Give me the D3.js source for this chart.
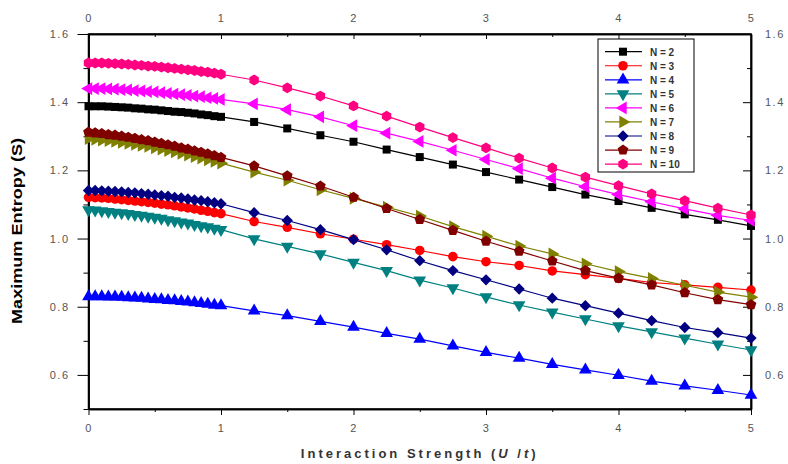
<!DOCTYPE html>
<head>
  <meta charset="utf-8">
  <style>
    body { margin: 0; background: #fff; }
    svg text { font-family: Arial, "Liberation Sans", sans-serif; }
    .tick text { font-size: 11px; fill: #555; letter-spacing: 1.5px; }
    .axis path, .axis line { stroke: #000; }
  </style>
</head>

<body>
<script src="https://d3js.org/d3.v7.min.js"></script>

<script>
  // U/t values: dense in [0,1], then every 0.25
  var uDense = [0, 0.05, 0.1, 0.15, 0.2, 0.25, 0.3, 0.35, 0.4, 0.45, 0.5,
                0.55, 0.6, 0.65, 0.7, 0.75, 0.8, 0.85, 0.9, 0.95, 1];
  var uCoarse = [1.25, 1.5, 1.75, 2, 2.25, 2.5, 2.75, 3, 3.25, 3.5, 3.75,
                 4, 4.25, 4.5, 4.75, 5];
  var uValues = uDense.concat(uCoarse);

  var xTicks = [0, 1, 2, 3, 4, 5];
  var yTicks = [0.6, 0.8, 1.0, 1.2, 1.4, 1.6];

  var labels = ["N = 2", "N = 3", "N = 4", "N = 5", "N = 6", "N = 7", "N = 8", "N = 9", "N = 10"];

  var sN2 = [1.388,1.388,1.388,1.387,1.386,1.385,1.384,1.382,1.381,1.379,1.378,1.376,1.374,1.372,1.371,1.369,1.367,1.364,1.362,1.359,1.357,
             1.342,1.323,1.303,1.284,1.261,1.239,1.217,1.195,1.173,1.151,1.129,1.110,1.090,1.071,1.055,1.037];
  var sN3 = [1.121,1.120,1.119,1.118,1.116,1.114,1.112,1.110,1.108,1.106,1.104,1.101,1.099,1.096,1.093,1.090,1.087,1.083,1.080,1.076,1.073,
             1.050,1.033,1.014,0.998,0.982,0.965,0.947,0.932,0.921,0.905,0.894,0.883,0.871,0.864,0.857,0.849];
  var sN4 = [0.830,0.830,0.830,0.829,0.829,0.828,0.827,0.826,0.825,0.823,0.822,0.821,0.819,0.818,0.816,0.814,0.812,0.810,0.808,0.805,0.803,
             0.788,0.774,0.757,0.740,0.722,0.705,0.685,0.666,0.649,0.631,0.615,0.599,0.582,0.568,0.555,0.541];
  var sN5 = [1.084,1.083,1.081,1.079,1.077,1.075,1.073,1.070,1.068,1.065,1.062,1.059,1.055,1.052,1.048,1.045,1.041,1.037,1.034,1.030,1.026,
             0.999,0.977,0.955,0.930,0.906,0.878,0.855,0.829,0.805,0.784,0.764,0.744,0.726,0.708,0.690,0.673];
  var sN6 = [1.440,1.440,1.440,1.439,1.438,1.437,1.436,1.434,1.433,1.431,1.430,1.428,1.426,1.424,1.422,1.420,1.418,1.416,1.413,1.411,1.408,
             1.395,1.378,1.357,1.331,1.309,1.285,1.259,1.232,1.205,1.177,1.152,1.129,1.108,1.087,1.068,1.053];
  var sN7 = [1.293,1.291,1.289,1.287,1.285,1.282,1.279,1.276,1.273,1.270,1.266,1.262,1.258,1.254,1.250,1.245,1.240,1.236,1.231,1.226,1.221,
             1.195,1.171,1.143,1.118,1.092,1.066,1.035,1.007,0.978,0.955,0.926,0.903,0.883,0.863,0.843,0.828];
  var sN8 = [1.141,1.141,1.140,1.139,1.138,1.137,1.135,1.134,1.132,1.130,1.128,1.126,1.124,1.121,1.119,1.116,1.113,1.111,1.108,1.105,1.102,
             1.076,1.053,1.026,0.997,0.967,0.935,0.906,0.879,0.852,0.825,0.803,0.781,0.759,0.739,0.724,0.708];
  var sN9 = [1.312,1.310,1.308,1.305,1.303,1.300,1.297,1.294,1.290,1.287,1.283,1.279,1.275,1.271,1.266,1.262,1.257,1.253,1.248,1.243,1.238,
             1.213,1.184,1.154,1.121,1.088,1.056,1.024,0.992,0.963,0.934,0.906,0.884,0.864,0.841,0.821,0.806];
  var sN10 = [1.515,1.515,1.515,1.514,1.513,1.512,1.511,1.509,1.508,1.506,1.505,1.503,1.501,1.499,1.497,1.495,1.493,1.490,1.488,1.485,1.482,
              1.465,1.442,1.418,1.389,1.359,1.327,1.296,1.266,1.236,1.207,1.180,1.155,1.131,1.111,1.089,1.069];

  var seriesValues = [sN2, sN3, sN4, sN5, sN6, sN7, sN8, sN9, sN10];
  var colors = ["#000000", "#FF0000", "#0000FF", "#008080", "#FF00FF", "#808000", "#000080", "#800000", "#FF0080"];

  // polygon symbol helper (pentagon, hexagon)
  function polygon(n, rot) {
    return {
      draw: function (ctx, size) {
        var r = Math.sqrt(size / (0.5 * n * Math.sin(2 * Math.PI / n)));
        for (var i = 0; i < n; i++) {
          var a = rot + i * 2 * Math.PI / n;
          var px = r * Math.sin(a), py = -r * Math.cos(a);
          if (i === 0) ctx.moveTo(px, py); else ctx.lineTo(px, py);
        }
        ctx.closePath();
      }
    };
  }

  // marker type, rotation, size
  var markers = [
    { type: d3.symbolSquare,   rot: 0,   size: 64 },
    { type: d3.symbolCircle,   rot: 0,   size: 72 },
    { type: d3.symbolTriangle, rot: 0,   size: 70 },
    { type: d3.symbolTriangle, rot: 180, size: 70 },
    { type: d3.symbolTriangle, rot: -90, size: 70 },
    { type: d3.symbolTriangle, rot: 90,  size: 70 },
    { type: d3.symbolSquare,   rot: 45,  size: 64 },
    { type: polygon(5, 0),     rot: 0,   size: 76 },
    { type: polygon(6, 0),     rot: 0,   size: 76 }
  ];

  var W = 788, H = 464;
  var plotL = 88.5, plotR = 751, plotT = 34, plotB = 409;

  var svg = d3.select("body").append("svg")
      .attr("width", W)
      .attr("height", H);

  var xScale = d3.scaleLinear().domain([0, 5]).range([plotL, plotR]);
  var yScale = d3.scaleLinear().domain([0.5, 1.6]).range([plotB, plotT]);

  var fmtY = d3.format(".1f");
  var xMinor = d3.range(0.5, 5, 1);
  var yMinor = [0.5, 0.7, 0.9, 1.1, 1.3, 1.5];

  // bottom axis
  svg.append("g").attr("class", "axis")
      .attr("transform", "translate(0," + plotB + ")")
      .call(d3.axisBottom(xScale).tickValues(xTicks).tickSize(6).tickSizeOuter(0).tickPadding(9).tickFormat(d3.format("d")));
  svg.append("g").attr("class", "axis")
      .attr("transform", "translate(0," + plotB + ")")
      .call(d3.axisBottom(xScale).tickValues(xMinor).tickSize(3).tickSizeOuter(0).tickFormat(""));

  // top axis (ticks inward)
  svg.append("g").attr("class", "axis")
      .attr("transform", "translate(0," + plotT + ")")
      .call(d3.axisTop(xScale).tickValues(xTicks).tickSize(-5).tickSizeOuter(0).tickPadding(12).tickFormat(d3.format("d")));
  svg.append("g").attr("class", "axis")
      .attr("transform", "translate(0," + plotT + ")")
      .call(d3.axisTop(xScale).tickValues(xMinor).tickSize(-3).tickSizeOuter(0).tickFormat(""));

  // left axis
  svg.append("g").attr("class", "axis")
      .attr("transform", "translate(" + plotL + ",0)")
      .call(d3.axisLeft(yScale).tickValues(yTicks).tickSize(11).tickSizeOuter(0).tickPadding(8).tickFormat(fmtY));
  svg.append("g").attr("class", "axis")
      .attr("transform", "translate(" + plotL + ",0)")
      .call(d3.axisLeft(yScale).tickValues(yMinor).tickSize(5).tickSizeOuter(0).tickFormat(""));

  // right axis (ticks inward)
  svg.append("g").attr("class", "axis")
      .attr("transform", "translate(" + plotR + ",0)")
      .call(d3.axisRight(yScale).tickValues(yTicks).tickSize(-8).tickSizeOuter(0).tickPadding(14).tickFormat(fmtY));
  svg.append("g").attr("class", "axis")
      .attr("transform", "translate(" + plotR + ",0)")
      .call(d3.axisRight(yScale).tickValues(yMinor).tickSize(-4).tickSizeOuter(0).tickFormat(""));

  svg.selectAll(".axis .domain").style("stroke-width", "1.5px");

  // frame
  svg.append("rect")
      .attr("x", plotL).attr("y", plotT)
      .attr("width", plotR - plotL).attr("height", plotB - plotT)
      .style("fill", "none").style("stroke", "#000").style("stroke-width", "1.5px");

  // series
  var line = d3.line()
      .x(function (d, i) { return xScale(uValues[i]); })
      .y(function (d) { return yScale(d); });

  seriesValues.forEach(function (vals, k) {
    var g = svg.append("g");
    g.append("path")
        .attr("d", line(vals))
        .style("fill", "none")
        .style("stroke", colors[k])
        .style("stroke-width", "1.2px");
    var m = markers[k];
    var sym = d3.symbol().type(m.type).size(m.size);
    g.selectAll("path.pt")
        .data(vals)
      .enter().append("path")
        .attr("class", "pt")
        .attr("d", sym)
        .attr("transform", function (d, i) {
          return "translate(" + xScale(uValues[i]) + "," + yScale(d) + ") rotate(" + m.rot + ")";
        })
        .style("fill", colors[k]);
  });

  // legend
  var legend = svg.append("g");
  legend.append("rect")
      .attr("x", 598).attr("y", 39)
      .attr("width", 96).attr("height", 133)
      .style("fill", "#fff").style("stroke", "#000").style("stroke-width", "1px");

  labels.forEach(function (lab, k) {
    var yy = 51.7 + k * 14.05;
    legend.append("line")
        .attr("x1", 605).attr("x2", 642)
        .attr("y1", yy).attr("y2", yy)
        .style("stroke", colors[k]).style("stroke-width", "1.2px");
    var m = markers[k];
    legend.append("path")
        .attr("d", d3.symbol().type(m.type).size(m.size)())
        .attr("transform", "translate(623," + yy + ") rotate(" + m.rot + ")")
        .style("fill", colors[k]);
    legend.append("text")
        .attr("x", 650).attr("y", yy + 4)
        .text(lab)
        .style("font-size", "10px")
        .style("font-weight", "bold")
        .style("fill", "#333");
  });

  // axis titles
  var xt = svg.append("text")
      .attr("x", (plotL + plotR) / 2)
      .attr("y", 458)
      .style("text-anchor", "middle")
      .style("font-size", "13px")
      .style("font-weight", "bold")
      .style("letter-spacing", "3px")
      .style("fill", "#333");
  xt.append("tspan").text("Interaction Strength (");
  xt.append("tspan").text("U").style("font-style", "italic");
  xt.append("tspan").text(" /");
  xt.append("tspan").text("t").style("font-style", "italic");
  xt.append("tspan").text(")");

  svg.append("text")
      .attr("transform", "translate(22,231) rotate(-90)")
      .style("text-anchor", "middle")
      .style("font-size", "14px")
      .style("font-weight", "bold")
      .attr("textLength", 186)
      .attr("lengthAdjust", "spacingAndGlyphs")
      .style("fill", "#000")
      .text("Maximum Entropy (S)");
</script>
</body>
</html>
